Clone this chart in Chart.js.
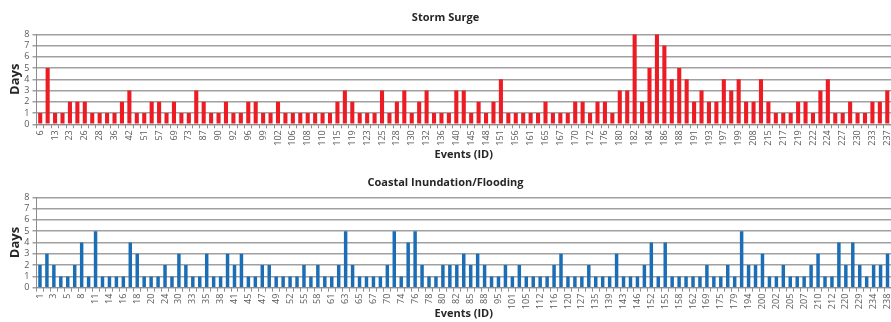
<!DOCTYPE html>
<html>
<head>
<meta charset="utf-8">
<script src="https://cdn.jsdelivr.net/npm/chart.js@4/dist/chart.umd.min.js"></script>
<style>
  html, body { margin: 0; padding: 0; background: #ffffff; }
  #wrap { position: relative; width: 891px; height: 322px; overflow: hidden; }
  .panel { position: absolute; left: 0; width: 891px; }
  #top { top: 0; height: 162px; }
  #bottom { top: 162px; height: 160px; }
</style>
</head>
<body>
<div id="wrap">
  <div class="panel" id="top"><canvas id="surge" width="891" height="162"></canvas></div>
  <div class="panel" id="bottom"><canvas id="flood" width="891" height="160"></canvas></div>
</div>
<script>
// Storm surge events: event IDs and number of days
const stormIds = [
  6, 10, 13, 19, 23, 25, 26, 27, 28, 33, 36, 40, 42, 47, 51, 54, 57, 63, 69, 71,
  73, 80, 87, 89, 90, 91, 92, 94, 96, 98, 99, 101, 102, 104, 106, 107, 108, 109, 110, 113,
  115, 117, 119, 121, 123, 124, 125, 127, 128, 129, 130, 131, 132, 134, 136, 138, 140, 143, 145, 147,
  148, 150, 151, 154, 156, 159, 161, 163, 165, 166, 167, 169, 170, 171, 172, 174, 176, 178, 180, 181,
  182, 183, 184, 185, 186, 187, 188, 190, 191, 192, 193, 195, 197, 198, 199, 204, 208, 211, 215, 216,
  217, 218, 219, 221, 222, 223, 224, 226, 227, 229, 230, 232, 233, 235, 237
];
const stormDays = [
  1, 5, 1, 1, 2, 2, 2, 1, 1, 1, 1, 2, 3, 1, 1, 2, 2, 1, 2, 1,
  1, 3, 2, 1, 1, 2, 1, 1, 2, 2, 1, 1, 2, 1, 1, 1, 1, 1, 1, 1,
  2, 3, 2, 1, 1, 1, 3, 1, 2, 3, 1, 2, 3, 1, 1, 1, 3, 3, 1, 2,
  1, 2, 4, 1, 1, 1, 1, 1, 2, 1, 1, 1, 2, 2, 1, 2, 2, 1, 3, 3,
  8, 2, 5, 8, 7, 4, 5, 4, 2, 3, 2, 2, 4, 3, 4, 2, 2, 4, 2, 1,
  1, 1, 2, 2, 1, 3, 4, 1, 1, 2, 1, 1, 2, 2, 3
];

// Coastal inundation / flooding events: event IDs and number of days
const floodIds = [
  1, 2, 3, 4, 5, 7, 8, 9, 11, 12, 14, 15, 16, 17, 18, 19, 20, 22, 24, 27,
  30, 31, 33, 34, 35, 37, 38, 40, 41, 43, 45, 46, 47, 48, 49, 51, 52, 54, 55, 56,
  58, 60, 61, 62, 63, 64, 65, 66, 67, 68, 70, 72, 74, 75, 76, 77, 78, 79, 80, 81,
  82, 84, 85, 86, 88, 91, 95, 98, 101, 103, 105, 109, 112, 114, 116, 118, 120, 124, 127, 131,
  135, 137, 139, 141, 143, 145, 146, 149, 152, 153, 155, 157, 158, 160, 162, 165, 169, 172, 175, 177,
  179, 187, 194, 197, 200, 201, 202, 204, 205, 206, 207, 209, 210, 211, 212, 216, 220, 225, 229, 231,
  234, 236, 238
];
const floodDays = [
  2, 3, 2, 1, 1, 2, 4, 1, 5, 1, 1, 1, 1, 4, 3, 1, 1, 1, 2, 1,
  3, 2, 1, 1, 3, 1, 1, 3, 2, 3, 1, 1, 2, 2, 1, 1, 1, 1, 2, 1,
  2, 1, 1, 2, 5, 2, 1, 1, 1, 1, 2, 5, 1, 4, 5, 2, 1, 1, 2, 2,
  2, 3, 2, 3, 2, 1, 1, 2, 1, 2, 1, 1, 1, 1, 2, 3, 1, 1, 1, 2,
  1, 1, 1, 3, 1, 1, 1, 2, 4, 1, 4, 1, 1, 1, 1, 1, 2, 1, 1, 2,
  1, 5, 2, 2, 3, 1, 1, 2, 1, 1, 1, 2, 3, 1, 1, 4, 2, 4, 2, 1,
  2, 2, 3
];

// Y axis ticks (days)
const dayTicks = [0, 1, 2, 3, 4, 5, 6, 7, 8];

const FONT = "'Open Sans', 'Liberation Sans', sans-serif";
const GRID = '#a0a0a0';
const TICK_TEXT = '#595959';

function makeChart(canvasId, title, ids, days, color, barPct, geo) {
  return new Chart(document.getElementById(canvasId), {
    type: 'bar',
    data: {
      labels: ids.map(String),
      datasets: [{
        label: title,
        data: days,
        backgroundColor: color,
        borderWidth: 0,
        barPercentage: barPct,
        categoryPercentage: 1.0
      }]
    },
    options: {
      responsive: false,
      animation: false,
      devicePixelRatio: 1,
      layout: { padding: 0 },
      plugins: {
        legend: { display: false },
        tooltip: { enabled: false },
        title: {
          display: true,
          text: title,
          color: '#262626',
          font: { family: FONT, size: 11, weight: 'bold', lineHeight: 1.2 },
          padding: { top: geo.titleTop, bottom: geo.titleBottom }
        }
      },
      scales: {
        x: {
          type: 'category',
          offset: true,
          grid: {
            display: true,
            offset: true,
            drawOnChartArea: false,
            drawTicks: true,
            tickLength: 4,
            color: '#8c8c8c'
          },
          border: { display: true, color: '#8c8c8c', width: 1 },
          ticks: {
            autoSkip: false,
            minRotation: 90,
            maxRotation: 90,
            padding: 2,
            color: TICK_TEXT,
            font: { family: FONT, size: 9 },
            callback: function (value, index) {
              return index % 2 === 0 ? this.getLabelForValue(value) : '';
            }
          },
          title: {
            display: true,
            text: 'Events (ID)',
            color: '#262626',
            font: { family: FONT, size: 11, weight: 'bold', lineHeight: 1.2 },
            padding: { top: 0, bottom: geo.xTitleBottom }
          },
          afterFit: function (scale) {
            scale.height = geo.xHeight;
            scale.paddingLeft = 0;
            scale.paddingRight = 0;
          }
        },
        y: {
          min: 0,
          max: 8,
          afterBuildTicks: function (scale) {
            scale.ticks = dayTicks.map(v => ({ value: v }));
          },
          grid: {
            color: GRID,
            lineWidth: 1.5,
            tickLength: 4,
            drawTicks: true
          },
          border: { display: true, color: '#8c8c8c', width: 1 },
          ticks: {
            autoSkip: false,
            padding: 3,
            color: TICK_TEXT,
            font: { family: FONT, size: 9 }
          },
          title: {
            display: true,
            text: 'Days',
            color: '#262626',
            font: { family: FONT, size: 13, weight: 'bold', lineHeight: 1.2 },
            padding: { top: 7, bottom: 0 }
          },
          afterFit: function (scale) {
            scale.width = 36.5;
            scale.paddingTop = 0;
            scale.paddingBottom = 0;
          }
        }
      }
    }
  });
}

makeChart('surge', 'Storm Surge', stormIds, stormDays, '#ed1c24', 0.55,
  { titleTop: 11.7, titleBottom: 9.4, xHeight: 37.7, xTitleBottom: 0.4 });

makeChart('flood', 'Coastal Inundation/Flooding', floodIds, floodDays, '#1b6db6', 0.5,
  { titleTop: 14.4, titleBottom: 7.7, xHeight: 34.3, xTitleBottom: 1.4 });
</script>
</body>
</html>
